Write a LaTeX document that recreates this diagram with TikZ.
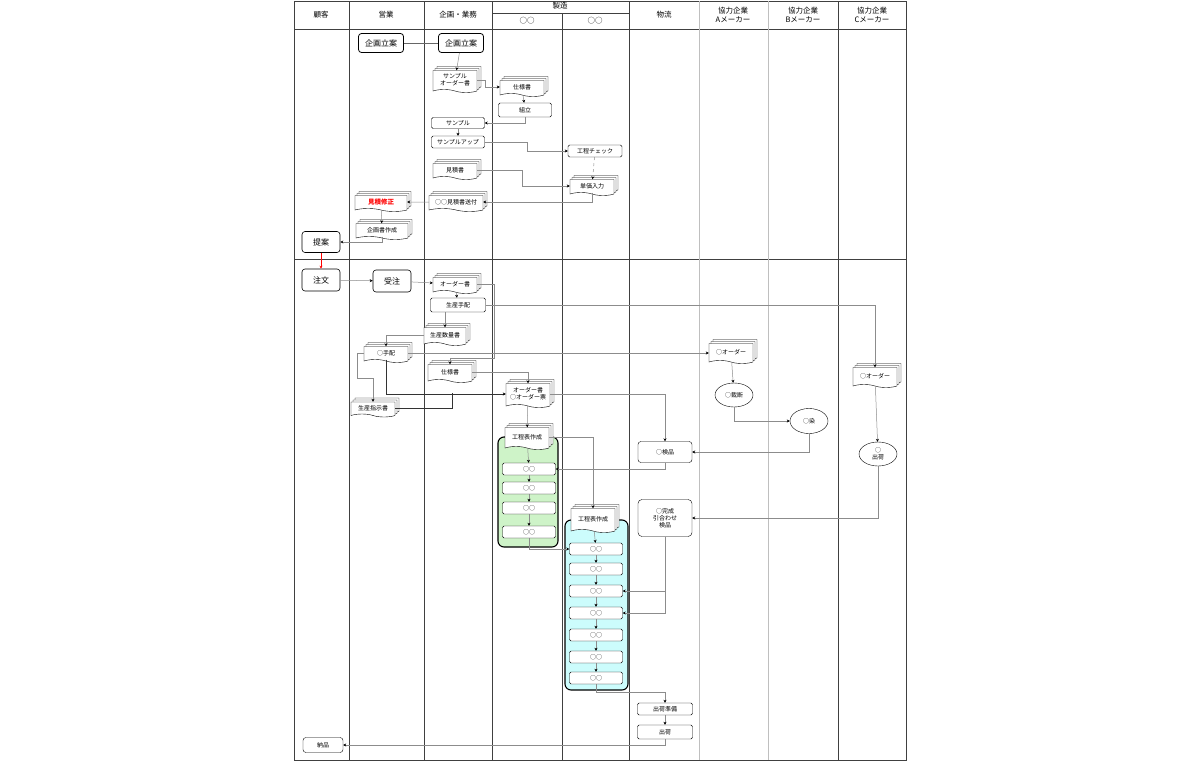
\documentclass[tikz,border=0pt]{standalone}
\usepackage{fontspec}
\setmainfont{Noto Sans CJK JP}
\usetikzlibrary{positioning,shapes.geometric,shapes.symbols,shadows,arrows.meta}
\definecolor{grpgreen}{RGB}{206,243,200}
\definecolor{grpcyan}{RGB}{204,252,252}

\tikzset{
  lane/.style={draw=black!75, line width=0.9pt},
  sublane/.style={draw=black!25, line width=0.8pt},
  head/.style={align=center, inner sep=1pt, font=\fontsize{7.5}{8.5}\selectfont},
  task/.style={draw, rounded corners=1.5pt, fill=white, minimum width=53pt, minimum height=12pt,
    inner sep=1pt, align=center, font=\fontsize{6}{6.8}\selectfont},
  act/.style={draw, rounded corners=3pt, semithick, fill=white, minimum width=38pt, minimum height=20pt,
    inner sep=1pt, font=\fontsize{8}{9}\selectfont},
  docs/.style={tape, draw, fill=white, tape bend top=none, tape bend bottom=out and in,
    tape bend height=3pt, minimum width=44pt, minimum height=16pt, inner sep=1pt, align=center,
    font=\fontsize{6}{6.8}\selectfont,
    double copy shadow={shadow xshift=2pt, shadow yshift=2pt, fill=white, draw=black}},
  oval/.style={ellipse, draw, fill=white, minimum width=38pt, minimum height=24pt, inner sep=0pt,
    align=center, font=\fontsize{6}{6.8}\selectfont},
  group/.style={draw, line width=1.1pt, rounded corners=6pt},
  flow/.style={draw=black!45, line width=0.5pt, -{Stealth[length=3pt,width=3pt,black]}},
}

\begin{document}
\begin{tikzpicture}[x=1pt, y=-1pt]
  \useasboundingbox (0,0) rectangle (1200,763);

  % lanes
  \draw[lane] (294,1) rectangle (906,760);
  \draw[lane] (294,29) -- (906,29);
  \draw[lane] (294,259) -- (906,259);
  \foreach \x in {349,424,492,629,838}
    \draw[lane] (\x,1) -- (\x,760);
  \foreach \x in {699,768}
    \draw[sublane] (\x,1) -- (\x,760);
  \draw[lane] (492,13) -- (629,13);
  \draw[lane] (562,13) -- (562,760);

  \node[head] (hcust) at (321,15) {顧客};
  \node[head] (hsales) at (386,15) {営業};
  \node[head] (hplan) at (458,15) {企画・業務};
  \node[head] (hmake) at (560,6) {製造};
  \node[head] (hmakea) at (527,21) {○○};
  \node[head] (hmakeb) at (595,21) {○○};
  \node[head] (hlogi) at (664,15) {物流};
  \node[head] (hmka) at (733,15) {協力企業\\Aメーカー};
  \node[head] (hmkb) at (803,15) {協力企業\\Bメーカー};
  \node[head] (hmkc) at (872,15) {協力企業\\Cメーカー};

  % groups
  \draw[group, fill=grpgreen] (498,437) rectangle (558,547);
  \draw[group, fill=grpcyan] (565,520) rectangle (628,690);

  % upper section
  \node[act, thick, minimum width=45pt, minimum height=19pt] (plan1) at (381,43) {企画立案};
  \node[act, thick, minimum width=45pt, minimum height=19pt] (plan2) at (461,43) {企画立案};
  \node[docs, minimum height=22pt] (sorder) at (455,80) {サンプル\\オーダー書};
  \node[docs] (spec1) at (522,87) {仕様書};
  \node[task, minimum height=14pt] (assemble) at (525,110) {組立};
  \node[task, minimum height=11pt] (sample) at (458,123) {サンプル};
  \node[task] (sampleup) at (458,142) {サンプルアップ};
  \node[task, minimum width=54pt] (check) at (595,151) {工程チェック};
  \node[docs] (estimate) at (455,170) {見積書};
  \node[docs] (unitprice) at (592,186) {単価入力};
  \node[docs, minimum width=54pt] (quote) at (456,202) {○○見積書送付};
  \node[docs, minimum width=52pt, text=red, font=\fontsize{6.5}{7}\selectfont\bfseries] (fix) at (381,202) {見積修正};
  \node[docs, minimum width=52pt] (proposal) at (382,230) {企画書作成};
  \node[act, minimum height=21pt] (teian) at (321,242) {提案};

  % lower section
  \node[act, minimum height=22pt] (chumon) at (321,280) {注文};
  \node[act, minimum height=22pt] (juchu) at (392,281) {受注};
  \node[docs] (order) at (455,284) {オーダー書};
  \node[task, minimum width=55pt, minimum height=14pt] (arrange) at (458,305) {生産手配};
  \node[docs, minimum width=42pt, minimum height=18pt] (qty) at (445,335) {生産数量書};
  \node[docs] (tehai) at (386,353) {○手配};
  \node[docs, minimum height=18pt] (spec2) at (450,372) {仕様書};
  \node[docs, minimum height=15pt] (instr) at (373,408) {生産指示書};
  \node[docs, minimum height=24pt] (orderslip) at (528,394) {オーダー書\\○オーダー票};
  \node[docs, minimum height=20pt] (aorder) at (731,352) {○オーダー};
  \node[oval] (cut) at (734,395) {○裁断};
  \node[oval, minimum height=25pt] (dye) at (809,421) {○染};
  \node[task, minimum width=54pt, minimum height=21pt, rounded corners=3pt] (inspect) at (665,452) {○検品};
  \node[docs, minimum height=20pt] (corder) at (875,376) {○オーダー};
  \node[oval] (cship) at (878,454) {○\\出荷};

  \node[docs, minimum height=22pt] (gplan) at (527,437) {工程表作成};
  \node[task] (g1) at (529,469) {○○};
  \node[task] (g2) at (529,488) {○○};
  \node[task] (g3) at (529,508) {○○};
  \node[task] (g4) at (529,532) {○○};

  \node[docs, minimum height=24pt] (cplan) at (593,519) {工程表作成};
  \node[task] (c1) at (596,549) {○○};
  \node[task] (c2) at (596,569) {○○};
  \node[task] (c3) at (596,591) {○○};
  \node[task] (c4) at (596,613) {○○};
  \node[task] (c5) at (596,635) {○○};
  \node[task] (c6) at (596,657) {○○};
  \node[task] (c7) at (596,678) {○○};

  \node[task, minimum width=54pt, minimum height=37pt, rounded corners=4pt] (done) at (665,518) {○完成\\引合わせ\\検品};
  \node[task, minimum width=55pt] (prep) at (665,709) {出荷準備};
  \node[task, minimum width=55pt, minimum height=14pt] (ship) at (665,732) {出荷};
  \node[task, minimum width=40pt, minimum height=15pt, rounded corners=3pt] (deliver) at (323,745) {納品};

  \coordinate (bend1) at (494,358);
  \coordinate (bend2) at (357,378);
  \coordinate (join) at (452,393);

  % connectors, upper
  \draw[black!60, line width=0.6pt] (plan1) -- (plan2);
  \draw[flow] (plan2) -- (sorder);
  \draw[flow] (sorder.east) -- ++(8,0) |- (spec1.west);
  \draw[flow] (spec1) -- (assemble);
  \draw[flow] (assemble.south) |- (sample.east);
  \draw[flow] (sample) -- (sampleup);
  \draw[flow] (sampleup.east) -- ++(43,0) |- (check.west);
  \draw[flow, dashed] (check) -- (unitprice);
  \draw[flow] (estimate.east) -- ++(45,0) |- (unitprice.west);
  \draw[flow] (unitprice.south) |- (quote.east);
  \draw[flow] (quote) -- (fix);
  \draw[flow] (fix) -- (proposal);
  \draw[flow] (proposal.south) |- (teian.east);
  \draw[flow, draw=red, -{Stealth[length=3pt,width=3pt,red]}] (teian) -- (chumon);

  % connectors, lower
  \draw[flow] (chumon) -- (juchu);
  \draw[flow] (juchu) -- (order);
  \draw[flow] (order) -- (arrange);
  \draw[flow] (order.east) -| (bend1) -| (spec2.north);
  \draw[flow] (qty.north |- arrange.south) -- (qty.north);
  \draw[flow] (arrange.east) -| (corder.north);
  \draw[flow] (qty.west) -| (tehai.north);
  \draw[flow] (tehai.east) -- (tehai.east -| aorder.west);
  \draw[flow] (tehai.west) -| (bend2) -| (instr.north);
  \draw[flow, draw=black!80] (tehai.south) |- (orderslip.west);
  \draw[black!80, line width=0.5pt] (instr.east) -| (join);
  \draw[flow] (spec2.east) -| (orderslip.north);
  \draw[flow] (orderslip.east) -| (inspect.north);
  \draw[flow] (orderslip) -- (gplan);
  \draw[flow] (aorder) -- (cut);
  \draw[flow] (cut.south) |- (dye.west);
  \draw[flow] (dye.south) |- (inspect.east);
  \draw[flow] (corder) -- (cship);
  \draw[flow] (cship.south) |- (done.east);
  \draw[flow] (inspect.south) |- (g1.east);
  \draw[flow] (gplan) -- (g1);
  \draw[flow] (g1) -- (g2);
  \draw[flow] (g2) -- (g3);
  \draw[flow] (g3) -- (g4);
  \draw[flow] (gplan.east) -| (cplan.north);
  \draw[flow] (g4.south) |- (c1.west);
  \draw[flow] (cplan) -- (c1);
  \foreach \a/\b in {c1/c2,c2/c3,c3/c4,c4/c5,c5/c6,c6/c7}
    \draw[flow] (\a) -- (\b);
  \draw[flow] (done.south) |- (c3.east);
  \draw[flow] (done.south) |- (c4.east);
  \draw[flow] (c7.south) -- ++(0,8) -| (prep.north);
  \draw[flow] (prep) -- (ship);
  \draw[flow] (ship.south) |- (deliver.east);
\end{tikzpicture}
\end{document}
